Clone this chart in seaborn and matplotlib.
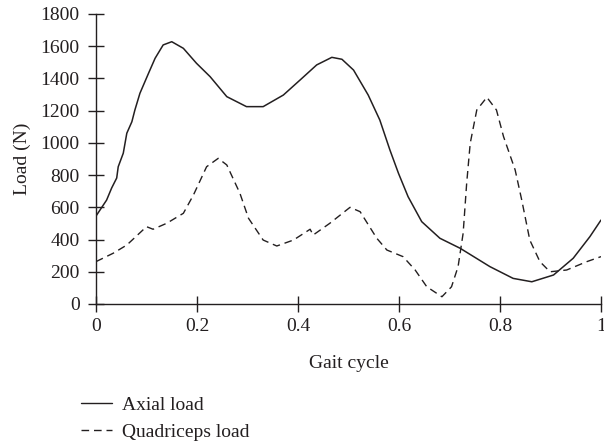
import matplotlib
matplotlib.use("Agg")
import matplotlib.pyplot as plt
import seaborn as sns
import pandas as pd
from matplotlib.lines import Line2D

axial_x = [0.0, 0.021, 0.031, 0.041, 0.044, 0.054, 0.061, 0.071, 0.077, 0.087, 0.104, 0.117,
           0.133, 0.150, 0.173, 0.199, 0.226, 0.259, 0.298, 0.331, 0.371, 0.404, 0.437, 0.467,
           0.487, 0.510, 0.539, 0.562, 0.582, 0.599, 0.618, 0.645, 0.681, 0.721, 0.780, 0.826,
           0.863, 0.906, 0.945, 0.978, 1.0]
axial_load = [546, 645, 720, 782, 852, 936, 1060, 1131, 1204, 1308, 1432, 1525,
              1608, 1628, 1587, 1494, 1411, 1287, 1225, 1225, 1297, 1390, 1484, 1531,
              1519, 1452, 1297, 1142, 956, 811, 666, 511, 408, 346, 232, 159,
              138, 180, 284, 418, 521]

quad_x = [0.0, 0.034, 0.061, 0.100, 0.113, 0.140, 0.173, 0.193, 0.219, 0.242, 0.259, 0.285,
          0.302, 0.331, 0.358, 0.391, 0.424, 0.430, 0.463, 0.503, 0.523, 0.556, 0.576, 0.608,
          0.632, 0.655, 0.685, 0.704, 0.717, 0.727, 0.734, 0.741, 0.754, 0.774, 0.793, 0.807,
          0.830, 0.843, 0.859, 0.879, 0.899, 0.932, 0.972, 1.0]
quad_load = [263, 315, 366, 480, 464, 501, 563, 677, 852, 904, 863, 687,
             532, 397, 360, 397, 464, 428, 501, 600, 573, 408, 335, 294,
             211, 107, 45, 107, 232, 439, 749, 997, 1204, 1283, 1204, 1039,
             832, 646, 397, 263, 200, 211, 263, 294]

x_ticks = [0, 0.2, 0.4, 0.6, 0.8, 1]
x_tick_labels = ["0", "0.2", "0.4", "0.6", "0.8", "1"]
y_ticks = [0, 200, 400, 600, 800, 1000, 1200, 1400, 1600, 1800]

sns.set_style("ticks")
plt.rcParams["font.family"] = ["Liberation Serif", "DejaVu Serif"]

col = "#231f20"
fig = plt.figure(figsize=(6.04, 4.45), dpi=100)
ax = fig.add_axes([96 / 604, 1 - 304 / 445, 505 / 604, 290 / 445])

df_a = pd.DataFrame({"x": axial_x, "load": axial_load})
df_q = pd.DataFrame({"x": quad_x, "load": quad_load})
sns.lineplot(data=df_a, x="x", y="load", ax=ax, color=col, linewidth=1.1, estimator=None, sort=False)
sns.lineplot(data=df_q, x="x", y="load", ax=ax, color=col, linewidth=1.0, estimator=None, sort=False,
             linestyle=(0, (5.5, 3.5)))

ax.set_xlim(0, 1)
ax.set_ylim(0, 1800)
ax.set_xticks(x_ticks)
ax.set_xticklabels(x_tick_labels)
ax.set_yticks(y_ticks)
for s in ["top", "right"]:
    ax.spines[s].set_visible(False)
for s in ["left", "bottom"]:
    ax.spines[s].set_color(col)
    ax.spines[s].set_linewidth(1.0)
ax.tick_params(direction="inout", length=11.5, width=1.0, color=col, labelsize=14,
               labelcolor=col)
ax.tick_params(axis="y", pad=6)
ax.tick_params(axis="x", pad=4)
ax.set_xlabel("Gait cycle", fontsize=14, color=col, labelpad=15)
ax.set_ylabel("Load (N)", fontsize=14, color=col, labelpad=7)
for lab in ax.get_xticklabels() + ax.get_yticklabels():
    lab.set_clip_on(False)

handles = [Line2D([], [], color=col, linewidth=1.0),
           Line2D([], [], color=col, linewidth=1.0, linestyle=(0, (5.5, 3.5)))]
fig.legend(handles, ["Axial load", "Quadriceps load"], loc="upper left",
           bbox_to_anchor=(65 / 604, 1 - 381 / 445), frameon=False, fontsize=14,
           handlelength=1.6, handletextpad=0.55, labelspacing=0.45, labelcolor=col,
           borderpad=0.3)

fig.savefig("out.png", dpi=100)
